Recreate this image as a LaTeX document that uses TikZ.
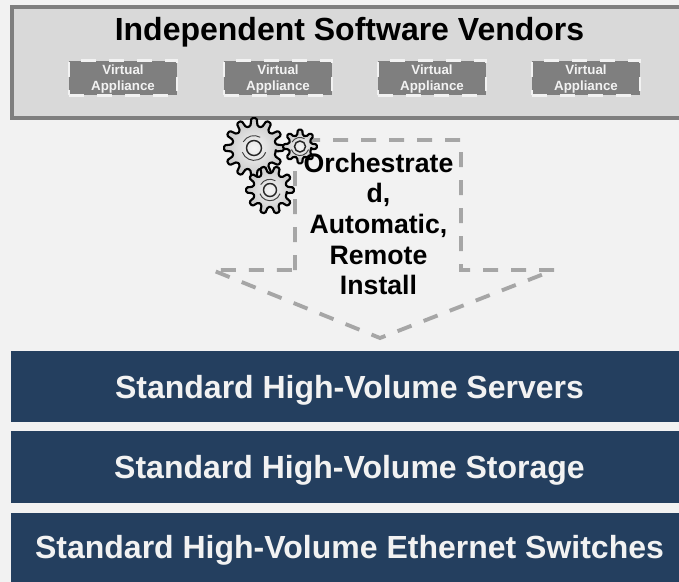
\documentclass[tikz,border=0pt]{standalone}
\usepackage{fontspec}
\setmainfont{Liberation Sans}
\definecolor{pagebg}{HTML}{F2F2F2}
\definecolor{panelfill}{HTML}{D9D9D9}
\definecolor{panelline}{HTML}{7F7F7F}
\definecolor{navy}{HTML}{243F5F}
\definecolor{dashgrey}{HTML}{A6A6A6}
\definecolor{gearin}{HTML}{F5F5F5}
\definecolor{gearout}{HTML}{C8C8C8}
% \gearshape{cx}{cy}{outer r}{root r}{teeth}{hole r}
\newcommand{\gearshape}[6]{%
  \pgfmathsetmacro{\gstep}{360/#5}%
  \path[line width=1.6pt,line join=round,rounded corners=1pt,draw=black,inner color=gearin,outer color=gearout]
    ({#1+#4*cos(-0.31*\gstep)},{-#2+#4*sin(-0.31*\gstep)})
    \foreach \k [evaluate=\k as \a using {\k*\gstep}] in {0,...,\numexpr#5-1\relax} {
      -- ({#1+#4*cos(\a-0.31*\gstep)},{-#2+#4*sin(\a-0.31*\gstep)})
      -- ({#1+#3*cos(\a-0.17*\gstep)},{-#2+#3*sin(\a-0.17*\gstep)})
      -- ({#1+#3*cos(\a+0.17*\gstep)},{-#2+#3*sin(\a+0.17*\gstep)})
      -- ({#1+#4*cos(\a+0.31*\gstep)},{-#2+#4*sin(\a+0.31*\gstep)})
    } -- cycle;
  \draw[line width=1.1pt,black!85] (#1,-#2) circle ({#6});
  \draw[line width=.7pt,black!75] ({#1+1.65*#6*cos(200)},{-#2+1.65*#6*sin(200)}) arc[start angle=200,end angle=340,radius={1.65*#6}];
  \draw[line width=.7pt,black!75] ({#1+1.65*#6*cos(60)},{-#2+1.65*#6*sin(60)}) arc[start angle=60,end angle=150,radius={1.65*#6}];
}
\tikzset{
  panel/.style={draw=panelline,line width=2.7pt,line join=miter},
  vabox/.style={draw=pagebg,line width=2.2pt,dash pattern=on 11pt off 10pt,fill=panelline,
    minimum width=81pt,minimum height=26pt,inner sep=0pt,text=pagebg,align=center,
    font=\bfseries\fontsize{10}{12}\selectfont},
  vatext/.style={text=pagebg,align=center,inner sep=0pt,font=\bfseries\fontsize{10}{12}\selectfont},
  bar/.style={fill=navy,text=pagebg,font=\bfseries\fontsize{24}{28}\selectfont,inner sep=0pt,anchor=center},
  flow/.style={draw=dashgrey,line width=2.9pt,dash pattern=on 11.25pt off 9.75pt,line join=miter,miter limit=20},
}
\begin{document}
\begin{tikzpicture}[x=0.75pt,y=0.75pt]
\useasboundingbox (0,0) rectangle (679,-582);
\fill[pagebg] (0,0) rectangle (679,-582);
\fill[panelfill] (12,-7) rectangle (679,-118);
\draw[panel] (679,-7) -- (12,-7) -- (12,-118) -- (679,-118);
\node[font=\bfseries\fontsize{24}{28}\selectfont] (title) at (349.5,-32) {Independent Software Vendors};
\foreach \n/\x in {a/123,b/278,c/432,d/586}
  \node[vabox] (va\n) at (\x,-78) {\phantom{Virtual}\\\phantom{Appliance}};
\foreach \n/\x in {a/123,b/278,c/432,d/586}
  \node[vatext] (vt\n) at (\x,-79.5) {Virtual\\Appliance};
\draw[flow] (295,-270) -- (295,-140) -- (461,-140) -- (461,-270) -- (554,-270) -- (380,-338) -- (212,-270) -- (295,-270);
\gearshape{254}{148}{30}{22}{12}{7.5}
\gearshape{300}{146.5}{17}{11.5}{8}{5.5}
\gearshape{270}{190}{24}{17}{10}{6.5}
\node[font=\bfseries\fontsize{20}{23}\selectfont,align=center] (orch) at (378.5,-224) {Orchestrate\\d,\\Automatic,\\Remote\\Install};
\fill[navy] (11,-351) rectangle (679,-422);
\fill[navy] (11,-431) rectangle (679,-503);
\fill[navy] (11,-513) rectangle (679,-582);
\node[bar] (srv) at (349.5,-390) {Standard High-Volume Servers};
\node[bar] (sto) at (349.5,-470) {Standard High-Volume Storage};
\node[bar] (eth) at (349.5,-550) {Standard High-Volume Ethernet Switches};
\end{tikzpicture}
\end{document}
